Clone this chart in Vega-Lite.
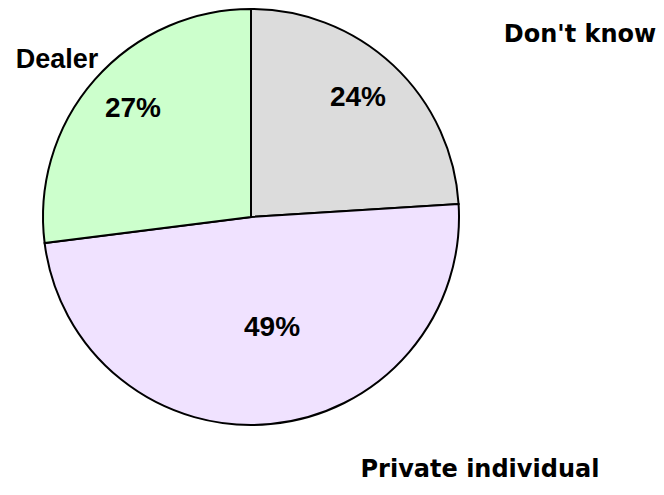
{
  "$schema": "https://vega.github.io/schema/vega-lite/v6.json",
  "width": 502,
  "height": 434,
  "autosize": {"type": "none"},
  "padding": {"left": 0, "top": 0, "right": 162, "bottom": 61},
  "background": "white",
  "config": {"view": {"stroke": null}},
  "data": {
    "values": [
      {"category": "Don't know", "value": 24, "ord": 1, "pct": "24%", "pctAng": 41.96, "pctDist": 160, "labAng": 61.05, "labDist": 376},
      {"category": "Private individual", "value": 49, "ord": 2, "pct": "49%", "pctAng": 169.29, "pctDist": 113, "labAng": 137.85, "labDist": 341.2},
      {"category": "Dealer", "value": 27, "ord": 3, "pct": "27%", "pctAng": 312.47, "pctDist": 160, "labAng": 309.0, "labDist": 249.6}
    ]
  },
  "layer": [
    {
      "mark": {"type": "arc", "outerRadius": 208, "stroke": "black", "strokeWidth": 2},
      "encoding": {
        "theta": {"field": "value", "type": "quantitative", "stack": true, "scale": {"domain": [0, 100], "range": [0, 6.2832]}},
        "order": {"field": "ord", "type": "quantitative"},
        "color": {
          "field": "category", "type": "nominal", "legend": null,
          "scale": {"domain": ["Don't know", "Private individual", "Dealer"], "range": ["#dcdcdc", "#f0e2ff", "#ccffcc"]}
        }
      }
    },
    {
      "mark": {"type": "text", "font": "Liberation Sans", "fontWeight": "bold", "fontSize": 28, "baseline": "middle", "align": "center", "color": "black"},
      "encoding": {
        "theta": {"field": "pctAng", "type": "quantitative", "scale": {"domain": [0, 360], "range": [0, 6.2832]}},
        "radius": {"field": "pctDist", "type": "quantitative", "scale": {"type": "linear", "domain": [0, 400], "range": [0, 400], "zero": true, "nice": false}},
        "text": {"field": "pct"}
      }
    },
    {
      "transform": [{"filter": "datum.category === 'Dealer'"}],
      "mark": {"type": "text", "font": "Liberation Sans", "fontWeight": "bold", "fontSize": 27, "baseline": "middle", "align": "center", "color": "black"},
      "encoding": {
        "theta": {"field": "labAng", "type": "quantitative", "scale": {"domain": [0, 360], "range": [0, 6.2832]}},
        "radius": {"field": "labDist", "type": "quantitative", "scale": {"type": "linear", "domain": [0, 400], "range": [0, 400], "zero": true, "nice": false}},
        "text": {"field": "category"}
      }
    },
    {
      "transform": [{"filter": "datum.category !== 'Dealer'"}],
      "mark": {"type": "text", "font": "DejaVu Sans", "fontWeight": "bold", "fontSize": 24, "baseline": "middle", "align": "center", "color": "black"},
      "encoding": {
        "theta": {"field": "labAng", "type": "quantitative", "scale": {"domain": [0, 360], "range": [0, 6.2832]}},
        "radius": {"field": "labDist", "type": "quantitative", "scale": {"type": "linear", "domain": [0, 400], "range": [0, 400], "zero": true, "nice": false}},
        "text": {"field": "category"}
      }
    }
  ],
  "resolve": {"scale": {"theta": "independent", "radius": "independent"}}
}
